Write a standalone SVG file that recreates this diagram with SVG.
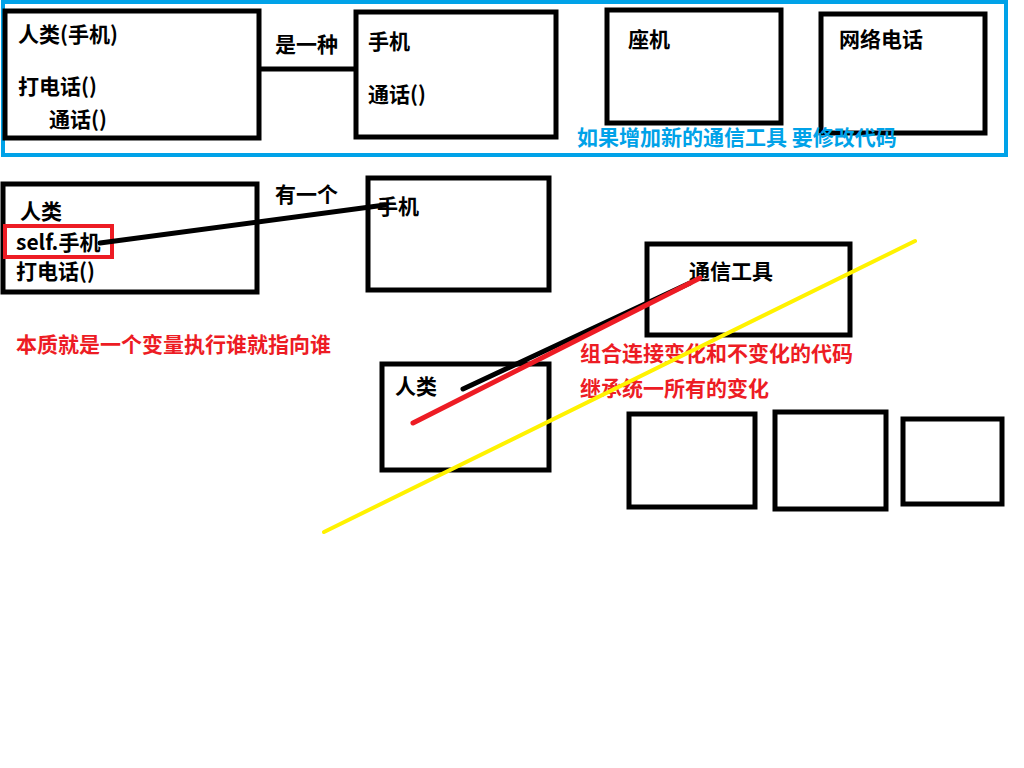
<svg xmlns="http://www.w3.org/2000/svg" width="1024" height="768" viewBox="0 0 1024 768">
<style>
.box{fill:none;stroke:#000;stroke-width:5}
.t{font-family:"Noto Sans CJK SC","Microsoft YaHei",sans-serif;font-weight:bold;font-size:21px;fill:#000}
.blue{fill:#00A2E8}
.red{fill:#ED1C24}
.ln{stroke-linecap:round;fill:none}
</style>
<rect width="1024" height="768" fill="#fff"/>
<g id="frame"><rect x="3" y="2" width="1003" height="153" fill="none" stroke="#00A2E8" stroke-width="4"/></g>
<g id="n-human-phone"><rect class="box" x="5" y="11" width="254" height="127"/>
<text class="t" x="18" y="42">人类(手机)</text><text class="t" x="18" y="94">打电话()</text><text class="t" x="49" y="127">通话()</text></g>
<g id="n-phone1"><rect class="box" x="356" y="12" width="200" height="125"/>
<text class="t" x="368" y="49">手机</text><text class="t" x="368" y="102">通话()</text></g>
<g id="n-landline"><rect class="box" x="607" y="10" width="174" height="113"/><text class="t" x="628" y="47">座机</text></g>
<g id="n-voip"><rect class="box" x="821" y="14" width="164" height="119"/><text class="t" x="839" y="47">网络电话</text></g>
<text class="t blue" x="577" y="145">如果增加新的通信工具 要修改代码</text>
<text class="t" x="275" y="52">是一种</text>
<g id="n-human2"><rect class="box" x="3" y="184" width="254" height="108"/>
<text class="t" x="20" y="219">人类</text><text class="t" x="16" y="250">self.手机</text><text class="t" x="16" y="279">打电话()</text>
<rect x="5" y="226" width="107" height="31" fill="none" stroke="#ED1C24" stroke-width="4"/></g>
<g id="n-phone2"><rect class="box" x="368" y="178" width="181" height="112"/><text class="t" x="377" y="214">手机</text></g>
<text class="t" x="275" y="202">有一个</text>
<text class="t red" x="16" y="352">本质就是一个变量执行谁就指向谁</text>
<g id="n-tool"><rect class="box" x="647" y="244" width="203" height="91"/><text class="t" x="689" y="279">通信工具</text></g>
<g id="n-human3"><rect class="box" x="382" y="364" width="167" height="106"/><text class="t" x="395" y="394">人类</text></g>
<text class="t red" x="580" y="361">组合连接变化和不变化的代码</text>
<text class="t red" x="580" y="396">继承统一所有的变化</text>
<g id="n-sub1"><rect class="box" x="629" y="414" width="126" height="93"/></g>
<g id="n-sub2"><rect class="box" x="775" y="412" width="111" height="97"/></g>
<g id="n-sub3"><rect class="box" x="903" y="419" width="99" height="85"/></g>
<g id="connectors">
<line x1="259" y1="69" x2="356" y2="69" stroke="#000" stroke-width="5"/>
<line class="ln" x1="100" y1="243" x2="385" y2="205" stroke="#000" stroke-width="5"/>
<line class="ln" x1="463" y1="389" x2="690" y2="283" stroke="#000" stroke-width="5"/>
<line class="ln" x1="413" y1="423" x2="700" y2="278" stroke="#ED1C24" stroke-width="5"/>
<line class="ln" x1="324" y1="532" x2="915" y2="241" stroke="#FFF200" stroke-width="4"/>
</g>
</svg>
